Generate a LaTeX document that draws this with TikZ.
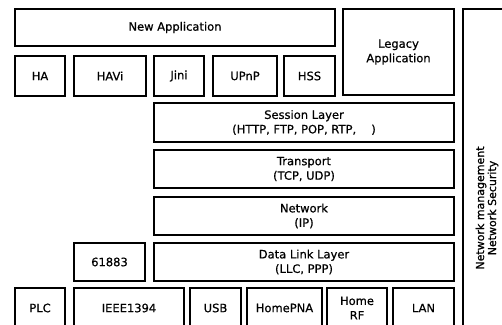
\documentclass[tikz,border=0pt]{standalone}
\usepackage{fontspec}
\setmainfont[FakeBold=0.7]{DejaVu Sans}
\begin{document}
\begin{tikzpicture}[x=1pt,y=-1pt,
  layer/.style={draw=black,line width=1.3pt,inner sep=0pt,outer sep=0pt,
    align=center,font=\fontsize{11.5}{14.5}\selectfont},
  vlabel/.style={rotate=90,align=center,inner sep=0pt,font=\fontsize{11}{12}\selectfont}]
% page frame
\useasboundingbox (0,0) rectangle (502,324);
\clip (0,0) rectangle (502,324);
\fill[white] (0,0) rectangle (502,324);
% box from corner coordinates: name, x1, y1, x2, y2, label
\newcommand\blk[6]{%
  \node[layer,minimum width={#4-#2},minimum height={#5-#3}]
    (#1) at ({(#2+#4)/2},{(#3+#5)/2}) {#6};}
% applications
\blk{newapp}{15}{9}{335}{46}{New Application}
\blk{legacy}{343}{9}{454}{95}{Legacy\\Application}
\blk{ha}{15}{56}{65}{96}{HA}
\blk{havi}{74}{56}{146}{96}{HAVi}
\blk{jini}{154}{56}{204}{96}{Jini}
\blk{upnp}{213}{56}{277}{96}{UPnP}
\blk{hss}{284}{56}{335}{96}{HSS}
% protocol stack
\blk{session}{154}{103}{454}{142}{Session Layer\\(HTTP, FTP, POP, RTP, \quad)}
\blk{transport}{154}{150}{454}{188}{Transport\\(TCP, UDP)}
\blk{network}{154}{197}{454}{235}{Network\\(IP)}
\blk{iec}{74}{243}{145}{281}{61883}
\blk{datalink}{154}{243}{454}{281}{Data Link Layer\\(LLC, PPP)}
% physical media (running past the lower edge)
\blk{plc}{15}{288}{65}{328}{PLC}
\blk{ieee}{74}{288}{184}{328}{IEEE1394}
\blk{usb}{190}{288}{241}{328}{USB}
\blk{homepna}{247}{288}{322}{328}{HomePNA}
\blk{homerf}{327}{288}{387}{328}{Home\\RF}
\blk{lan}{393}{288}{454}{328}{LAN}
% management column (running past the right and lower edges)
\blk{mgmt}{463}{9}{530}{345}{}
\node[vlabel] (mgmttext) at (487,208) {Network management\\Network Security};
\end{tikzpicture}
\end{document}
